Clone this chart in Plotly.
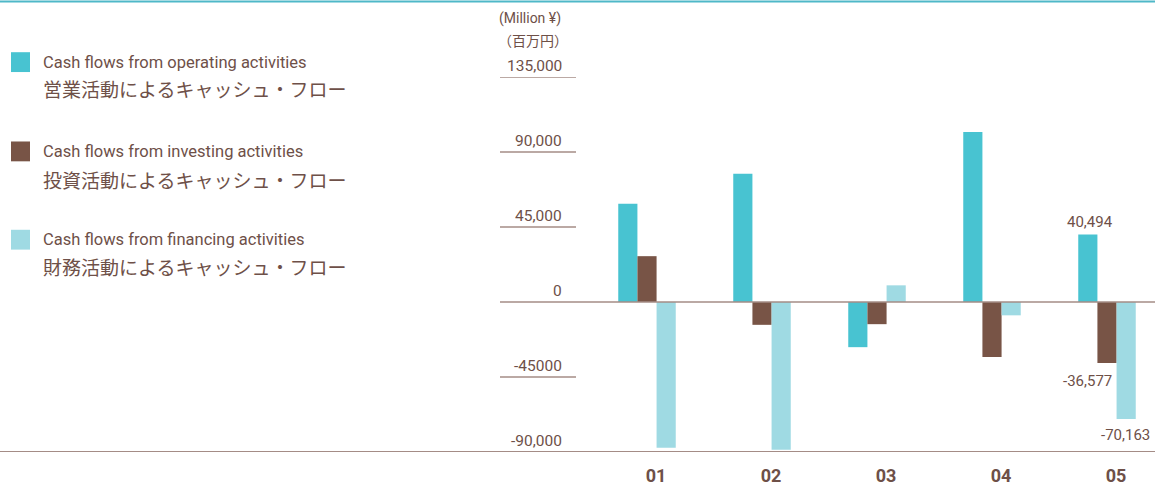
import plotly.graph_objects as go

categories = ["01", "02", "03", "04", "05"]
operating = [59000, 76900, -27100, 102000, 40494]
investing = [27500, -13700, -13300, -33000, -36577]
financing = [-87400, -88600, 10000, -8000, -70163]

series_names = [
    ("Cash flows from operating activities", "営業活動によるキャッシュ・フロー"),
    ("Cash flows from investing activities", "投資活動によるキャッシュ・フロー"),
    ("Cash flows from financing activities", "財務活動によるキャッシュ・フロー"),
]
tick_values = [135000, 90000, 45000, 0, -45000, -90000]
tick_labels = ["135,000", "90,000", "45,000", "0", "-45000", "-90,000"]

C_OP = "#48C3D1"
C_INV = "#785446"
C_FIN = "#9FDAE3"
TXT = "#6E5048"
GRID = "#A48C86"

W, H = 1155, 486
L, R, T, B = 500, 0, 77, 31
pw = W - L - R
ph = H - T - B

xs = list(range(len(categories)))

fig = go.Figure()
for vals, col, nm in [(operating, C_OP, series_names[0][0]),
                      (investing, C_INV, series_names[1][0]),
                      (financing, C_FIN, series_names[2][0])]:
    fig.add_trace(go.Bar(x=xs, y=vals, marker=dict(color=col, line=dict(width=0)),
                         name=nm, showlegend=False))

FONT = "Roboto, 'Noto Sans CJK JP', sans-serif"
JFONT = "'Noto Sans CJK JP', sans-serif"


def px2paper(px):
    return (px - L) / pw


def ypaper(py):
    return 1 - (py - T) / ph


shapes = []
annotations = []

# top decorative line
shapes.append(dict(type="line", xref="paper", yref="paper", x0=px2paper(0), x1=px2paper(W),
                   y0=ypaper(1), y1=ypaper(1), line=dict(color="#4FB8C8", width=2)))
# bottom line across whole width
shapes.append(dict(type="line", xref="paper", yref="y", x0=px2paper(0), x1=px2paper(W),
                   y0=-90000, y1=-90000, line=dict(color=GRID, width=2)))
# zero line
shapes.append(dict(type="line", xref="paper", yref="y", x0=0, x1=1, y0=0, y1=0,
                   line=dict(color=GRID, width=1.5), layer="above"))
# short tick lines with labels above
for v, lab in zip(tick_values, tick_labels):
    if v not in (0, -90000):
        shapes.append(dict(type="line", xref="paper", yref="y", x0=0, x1=px2paper(576),
                           y0=v, y1=v, line=dict(color=GRID, width=1.5)))
    annotations.append(dict(x=px2paper(564), y=v, xref="paper", yref="y", text=lab,
                            showarrow=False, xanchor="right", yanchor="bottom", yshift=0,
                            font=dict(family=FONT, size=15.5, color=TXT)))

# unit labels
annotations.append(dict(x=px2paper(530), y=ypaper(18), xref="paper", yref="paper",
                        text="(Million ¥)", showarrow=False, xanchor="center", yanchor="middle",
                        font=dict(family=FONT, size=14, color=TXT)))
annotations.append(dict(x=px2paper(533), y=ypaper(40), xref="paper", yref="paper",
                        text="（百万円）", showarrow=False, xanchor="center", yanchor="middle",
                        font=dict(family=JFONT, size=14, color=TXT)))

# legend built from shapes + annotations
legend_rows = [(62, 89, C_OP), (152, 180, C_INV), (241, 268, C_FIN)]
for (ey, jy, col), (en, jp) in zip(legend_rows, series_names):
    shapes.append(dict(type="rect", xref="paper", yref="paper",
                       x0=px2paper(11), x1=px2paper(30), y0=ypaper(ey + 10), y1=ypaper(ey - 10),
                       fillcolor=col, line=dict(width=0)))
    annotations.append(dict(x=px2paper(41), y=ypaper(ey), xref="paper", yref="paper", text=en,
                            showarrow=False, xanchor="left", yanchor="middle",
                            font=dict(family=FONT, size=16.5, color=TXT)))
    annotations.append(dict(x=px2paper(41), y=ypaper(jy), xref="paper", yref="paper", text=jp,
                            showarrow=False, xanchor="left", yanchor="middle",
                            font=dict(family=JFONT, size=19, color=TXT)))

# value labels on last group
last = len(categories) - 1
annotations.append(dict(x=last, y=operating[last], text=f"{operating[last]:,}", showarrow=False,
                        xshift=-17, yanchor="bottom", yshift=2,
                        font=dict(family=FONT, size=15, color=TXT)))
annotations.append(dict(x=last, y=investing[last], text=f"{investing[last]:,}", showarrow=False,
                        xshift=-20, yanchor="top", yshift=-7,
                        font=dict(family=FONT, size=15, color=TXT)))
annotations.append(dict(x=last, y=financing[last], text=f"{financing[last]:,}", showarrow=False,
                        xshift=18, yanchor="top", yshift=-5,
                        font=dict(family=FONT, size=15, color=TXT)))

first_center_px = 647
spacing_px = 115
x_lo = (L - first_center_px) / spacing_px
x_hi = (W - R - first_center_px) / spacing_px

fig.update_layout(
    width=W, height=H,
    margin=dict(l=L, r=R, t=T, b=B, pad=0),
    paper_bgcolor="white", plot_bgcolor="white",
    barmode="group", bargap=0.5, bargroupgap=0,
    shapes=shapes, annotations=annotations,
    xaxis=dict(range=[x_lo, x_hi], tickvals=xs, ticktext=categories, showgrid=False,
               zeroline=False, showline=False, ticks="", ticklabelshift=9, ticklabelstandoff=11,
               tickfont=dict(family=FONT, size=18, color=TXT, weight="bold")),
    yaxis=dict(range=[-90000, 135000], showgrid=False, zeroline=False, showline=False,
               showticklabels=False, ticks=""),
    font=dict(family=FONT, color=TXT),
)

fig.write_html("out.html", config={"displayModeBar": False},
               post_script="document.body.style.margin='0';document.body.style.padding='0';")
